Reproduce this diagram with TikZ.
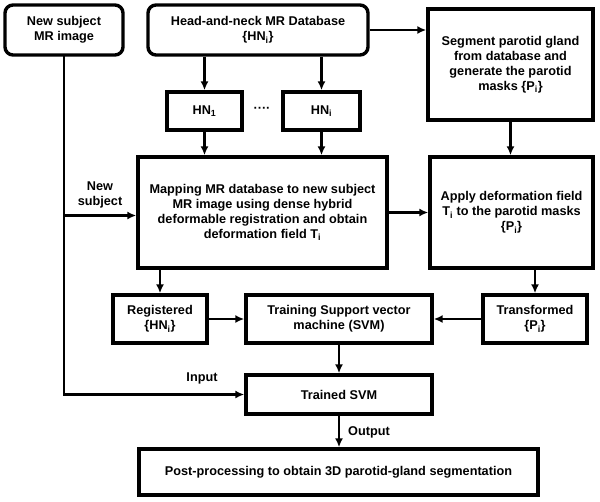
\documentclass[tikz,border=0pt]{standalone}
\usepackage{fontspec}
\setmainfont{Liberation Sans}
\usetikzlibrary{arrows.meta,calc}

\begin{document}
\begin{tikzpicture}[x=1pt, y=1pt, >={Latex[length=9pt,width=8pt]},
    every node/.style={font=\fontsize{12.7}{15}\selectfont\bfseries, align=center, text centered, inner sep=0pt},
    box/.style={rectangle, draw=black, fill=white, line width=3.4pt},
    rbox/.style={box, rounded corners=8pt},
    lbl/.style={},
    flow/.style={->, line width=2.4pt}]
    \useasboundingbox (0,0) rectangle (600,-501);

    \node(newsub)[rbox, minimum width=118pt, minimum height=50pt] at (64,-30) {New subject\\MR image};
    \node(db)[rbox, minimum width=220pt, minimum height=50pt] at (258,-30) {Head-and-neck MR Database\\\{HN\textsubscript{i}\}};
    \node(seg)[box, minimum width=165pt, minimum height=111pt] at (510.5,-64.5) {Segment parotid gland\\from database and\\generate the parotid\\masks \{P\textsubscript{i}\}};
    \node(hn1)[box, minimum width=75pt, minimum height=38pt] at (204.5,-111) {HN\textsubscript{1}};
    \node(hni)[box, minimum width=77pt, minimum height=38pt] at (321.5,-111) {HN\textsubscript{i}};
    \node(dots)[lbl] at (262,-110) {····};
    \node(map)[box, minimum width=249pt, minimum height=111pt] at (262.5,-212.5) {Mapping MR database to new subject\\MR image using dense hybrid\\deformable registration and obtain\\deformation field T\textsubscript{i}};
    \node(apply)[box, minimum width=163pt, minimum height=111pt] at (511.5,-212.5) {Apply deformation field\\T\textsubscript{i} to the parotid masks\\\{P\textsubscript{i}\}};
    \node(reg)[box, minimum width=94pt, minimum height=48pt] at (160,-319) {Registered\\\{HN\textsubscript{i}\}};
    \node(train)[box, minimum width=186pt, minimum height=48pt] at (339,-319) {Training Support vector\\machine (SVM)};
    \node(trans)[box, minimum width=104pt, minimum height=48pt] at (535,-319) {Transformed\\\{P\textsubscript{i}\}};
    \node(svm)[box, minimum width=186pt, minimum height=39pt] at (339,-394.5) {Trained SVM};
    \node(post)[box, minimum width=399pt, minimum height=46pt] at (338.5,-472) {Post-processing to obtain 3D parotid-gland segmentation};

    \node(newlbl)[lbl] at (100,-195) {New\\subject};
    \node(inlbl)[lbl] at (202,-378) {Input};
    \node(outlbl)[lbl, anchor=west] at (348,-432) {Output};

    \coordinate(split) at ($(newsub.south |- map.west)+(0,-3)$);

    \draw[flow] (db.east) -- (db.east -| seg.west);
    \draw[flow] (db.south -| hn1) -- (hn1.north);
    \draw[flow] (db.south -| hni) -- (hni.north);
    \draw[flow] (hn1.south) -- (hn1.south |- map.north);
    \draw[flow] (hni.south) -- (hni.south |- map.north);
    \draw[flow] (seg.south) -- (seg.south |- apply.north);
    \draw[flow] (map.east) -- (map.east -| apply.west);
    \draw[flow] (reg.north |- map.south) -- (reg.north);
    \draw[flow] (trans.north |- apply.south) -- (trans.north);
    \draw[flow] (reg.east) -- (train.west);
    \draw[flow] (trans.west) -- (train.east);
    \draw[flow] (train.south) -- (svm.north);
    \draw[flow] (svm.south) -- (svm.south |- post.north);
    \draw[flow, line cap=rect] (newsub.south) -- (newsub.south |- svm.west) -- (svm.west);
    \draw[flow] (split) -- (split -| map.west);
\end{tikzpicture}
\end{document}
